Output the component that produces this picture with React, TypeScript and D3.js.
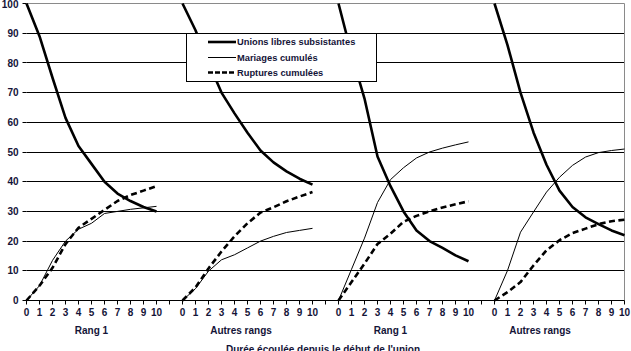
import React from "react";
import * as d3 from "d3";

const panelLabels = ["Rang 1", "Autres rangs", "Rang 1", "Autres rangs"];
const durations = ["0", "1", "2", "3", "4", "5", "6", "7", "8", "9", "10"];
const yTicks = [0, 10, 20, 30, 40, 50, 60, 70, 80, 90, 100];

const unionsLibres = [
  [100, 89, 75, 61.5, 52, 46, 40, 36, 33.5, 31.5, 30],
  [100, 91, 80, 70, 63, 56.5, 50.5, 46.5, 43.5, 41, 39],
  [100, 83, 68, 48.5, 38.5, 30, 23.6, 20, 17.7, 15.2, 13.2],
  [100, 86, 70, 56.6, 45.7, 37, 31.5, 28, 25.7, 23.6, 22],
];
const mariages = [
  [0, 5, 13.5, 20, 24, 26, 29.3, 30, 30.7, 31.2, 31.7],
  [0, 4, 9.9, 13.7, 15.4, 17.7, 20, 21.6, 22.9, 23.6, 24.3],
  [0, 10.5, 21, 33, 40.7, 44.7, 48, 50, 51.3, 52.4, 53.4],
  [0, 10.1, 23, 29.8, 36.5, 41.5, 45.5, 48.3, 49.8, 50.5, 51],
];
const ruptures = [
  [0, 5, 11, 19, 24.5, 27.5, 30.5, 33.5, 35.5, 37, 38.5],
  [0, 4.4, 10.8, 16.5, 21.6, 26, 29.6, 31.4, 33.4, 35, 36.5],
  [0, 6.2, 12.4, 19, 22.5, 26.5, 28.5, 30, 31.3, 32.4, 33.4],
  [0, 2.8, 6.2, 11.8, 16.9, 20.3, 22.7, 24.2, 25.7, 26.7, 27.2],
];

const seriesNames = ["Unions libres subsistantes", "Mariages cumulés", "Ruptures cumulées"];

const W = 631;
const H = 351;
const TXT = "#141438";
const FONT = "Arial, 'Liberation Sans', Helvetica, sans-serif";

// Flatten panels into one category axis with a blank category between panels
type Pt = { i: number; v: number | null };
function flatten(panels: number[][]): Pt[] {
  const out: Pt[] = [];
  panels.forEach((p, k) => {
    p.forEach((v) => out.push({ i: out.length, v }));
    if (k < panels.length - 1) out.push({ i: out.length, v: null });
  });
  return out;
}

const nCat = panelLabels.length * durations.length + panelLabels.length - 1; // 47

export default function App() {
  const x = d3.scaleLinear().domain([0, nCat - 1]).range([26.5, 624.5]);
  const y = d3.scaleLinear().domain([0, 100]).range([300.5, 3.5]);
  const crisp = (v: number) => Math.floor(v) + 0.5;

  const line = d3
    .line<Pt>()
    .defined((d) => d.v !== null)
    .x((d) => x(d.i))
    .y((d) => y(d.v as number));

  const series = [
    { name: seriesNames[0], data: flatten(unionsLibres), w: 2.6, dash: undefined as string | undefined },
    { name: seriesNames[1], data: flatten(mariages), w: 1, dash: undefined },
    { name: seriesNames[2], data: flatten(ruptures), w: 2.6, dash: "6,3.5" },
  ];

  const catTicks: { i: number; label: string }[] = [];
  for (let i = 0; i < nCat; i++) {
    const panel = Math.floor(i / (durations.length + 1));
    const pos = i % (durations.length + 1);
    catTicks.push({ i, label: pos < durations.length && panel < panelLabels.length ? durations[pos] : "" });
  }

  const legendRows = [42, 57.5, 72.5];

  return (
    <div style={{ position: "absolute", left: 0, top: 0 }}>
      <svg width={W} height={H} style={{ display: "block", background: "#fff" }} fontFamily={FONT}>
        {/* gridlines */}
        {yTicks.filter((t) => t > 0 && t < 100).map((t) => (
          <line key={t} x1={x(0)} x2={x(nCat - 1)} y1={crisp(y(t))} y2={crisp(y(t))} stroke="#000" strokeWidth={1} />
        ))}
        {/* plot border top & right (grey) */}
        <line x1={x(0)} x2={x(nCat - 1)} y1={crisp(y(100))} y2={crisp(y(100))} stroke="#8a8a8a" strokeWidth={1} />
        <line x1={crisp(x(nCat - 1))} x2={crisp(x(nCat - 1))} y1={crisp(y(100))} y2={crisp(y(0))} stroke="#8a8a8a" strokeWidth={1} />
        {/* y ticks & labels */}
        {yTicks.map((t) => (
          <g key={t}>
            <line x1={x(0) - 4} x2={x(0)} y1={crisp(y(t))} y2={crisp(y(t))} stroke="#000" strokeWidth={1} />
            <text x={18.5} y={Math.max(y(t) + 3.6, 7.8)} textAnchor="end" fontSize={10} fontWeight="bold" fill={TXT}>
              {t}
            </text>
          </g>
        ))}
        {/* x axis */}
        <line x1={x(0)} x2={x(nCat - 1)} y1={crisp(y(0))} y2={crisp(y(0))} stroke="#000" strokeWidth={1} />
        {catTicks.map((c) => (
          <g key={c.i}>
            <line x1={crisp(x(c.i))} x2={crisp(x(c.i))} y1={y(0)} y2={y(0) + 4} stroke="#000" strokeWidth={1} />
            {c.label && (
              <text x={x(c.i)} y={315.5} textAnchor="middle" fontSize={10} fontWeight="bold" fill={TXT}>
                {c.label}
              </text>
            )}
          </g>
        ))}
        {panelLabels.map((p, k) => (
          <text key={k} x={x(5 + 11.5 * k)} y={334} textAnchor="middle" fontSize={10} fontWeight="bold" fill={TXT}>
            {p}
          </text>
        ))}
        <text x={323} y={352.5} textAnchor="middle" fontSize={10} fontWeight="bold" fill={TXT}>
          Durée écoulée depuis le début de l'union
        </text>
        {/* series */}
        {series.map((s) => (
          <path
            key={s.name}
            d={line(s.data) || ""}
            fill="none"
            stroke="#000"
            strokeWidth={s.w}
            strokeDasharray={s.dash}
            strokeLinejoin="round"
          />
        ))}
        {/* legend */}
        <rect x={186.5} y={33.5} width={190} height={48} fill="#fff" stroke="#000" strokeWidth={1} />
        {series.map((s, k) => (
          <g key={s.name}>
            <line x1={208} x2={236} y1={legendRows[k]} y2={legendRows[k]} stroke="#000" strokeWidth={s.w} strokeDasharray={s.dash ? "5,2" : undefined} />
            <text x={237} y={legendRows[k] + 3.4} fontSize={9.3} fontWeight="bold" fill={TXT}>
              {s.name}
            </text>
          </g>
        ))}
      </svg>
    </div>
  );
}
